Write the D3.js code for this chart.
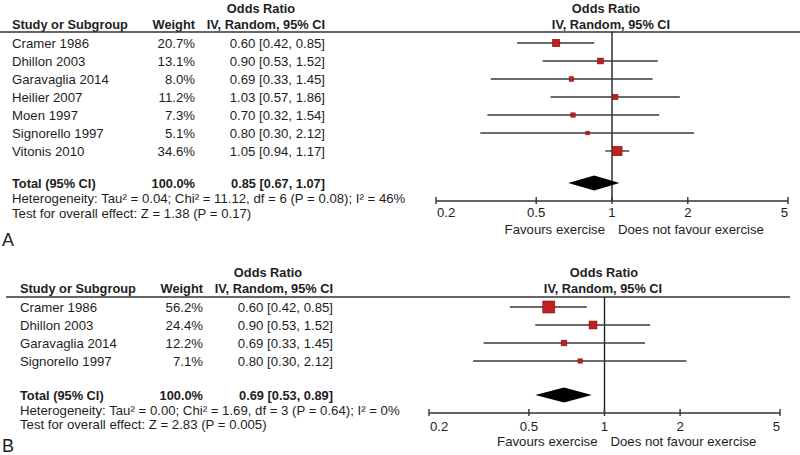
<!DOCTYPE html>
<html><head><meta charset="utf-8">
<script src="https://cdn.jsdelivr.net/npm/d3@7"></script>
<style>html,body{margin:0;padding:0;background:#fff;}svg{display:block;}</style>
</head><body>
<script>
// ---------- DATA ----------
const studiesA = ["Cramer 1986","Dhillon 2003","Garavaglia 2014","Heilier 2007","Moen 1997","Signorello 1997","Vitonis 2010"];
const weightsA = [20.7, 13.1, 8.0, 11.2, 7.3, 5.1, 34.6];
const orA      = [0.60, 0.90, 0.69, 1.03, 0.70, 0.80, 1.05];
const lowA     = [0.42, 0.53, 0.33, 0.57, 0.32, 0.30, 0.94];
const highA    = [0.85, 1.52, 1.45, 1.86, 1.54, 2.12, 1.17];
const totalA   = [0.85, 0.67, 1.07];
const hetA  = "Heterogeneity: Tau² = 0.04; Chi² = 11.12, df = 6 (P = 0.08); I² = 46%";
const testA = "Test for overall effect: Z = 1.38 (P = 0.17)";

const studiesB = ["Cramer 1986","Dhillon 2003","Garavaglia 2014","Signorello 1997"];
const weightsB = [56.2, 24.4, 12.2, 7.1];
const orB      = [0.60, 0.90, 0.69, 0.80];
const lowB     = [0.42, 0.53, 0.33, 0.30];
const highB    = [0.85, 1.52, 1.45, 2.12];
const totalB   = [0.69, 0.53, 0.89];
const hetB  = "Heterogeneity: Tau² = 0.00; Chi² = 1.69, df = 3 (P = 0.64); I² = 0%";
const testB = "Test for overall effect: Z = 2.83 (P = 0.005)";

const tickValues = [0.2, 0.5, 1, 2, 5];
const tickLabels = ["0.2", "0.5", "1", "2", "5"];
const favLeft = "Favours exercise";
const favRight = "Does not favour exercise";

// ---------- DRAW ----------
const W = 800, H = 455;
const svg = d3.select("body").append("svg").attr("width", W).attr("height", H);
const FONT = "'Liberation Sans', Arial, sans-serif";
const FS = 13.2, FSB = 12.8;
const TXT = "#1e1e1e";
const f2 = d3.format(".2f");
const f1 = d3.format(".1f");
const sizeScale = d3.scaleSqrt().domain([0, 100]).range([0, 16]);

function txt(g, x, y, s, anchor, bold, fs) {
  return g.append("text").attr("x", x).attr("y", y)
    .attr("text-anchor", anchor || "start")
    .attr("dominant-baseline", "central")
    .attr("font-family", FONT).attr("font-size", fs || (bold ? FSB : FS))
    .attr("font-weight", bold ? "bold" : "normal")
    .attr("fill", TXT).text(s);
}

function panel(cfg, d) {
  const g = svg.append("g");
  const x = d3.scaleLog().domain([0.2, 5]).range([cfg.ax0, cfg.ax1]);
  const rows = d.studies.map((s, i) => ({s, w: d.weights[i], or: d.or[i], lo: d.lo[i], hi: d.hi[i], y: cfg.row0 + i * cfg.rowStep}));

  // headers
  txt(g, cfg.orHdrX, cfg.hdr1, "Odds Ratio", "middle", true);
  txt(g, cfg.colStudy, cfg.hdr2, "Study or Subgroup", "start", true);
  txt(g, cfg.colW, cfg.hdr2, "Weight", "end", true);
  txt(g, cfg.colCI, cfg.hdr2, "IV, Random, 95% CI", "end", true);
  txt(g, cfg.plotHdr1X, cfg.hdr1, "Odds Ratio", "middle", true);
  txt(g, cfg.plotHdr2X, cfg.hdr2, "IV, Random, 95% CI", "middle", true);
  g.append("line").attr("x1", cfg.rule0).attr("x2", cfg.rule1)
    .attr("y1", cfg.rule).attr("y2", cfg.rule).attr("stroke", "#333").attr("stroke-width", 1.6);

  // rows text
  rows.forEach(r => {
    txt(g, cfg.colStudy, r.y, r.s, "start");
    txt(g, cfg.colW, r.y, f1(r.w) + "%", "end");
    txt(g, cfg.colCI, r.y, `${f2(r.or)} [${f2(r.lo)}, ${f2(r.hi)}]`, "end");
  });

  // total
  txt(g, cfg.colStudy, cfg.totalY, "Total (95% CI)", "start", true);
  txt(g, cfg.colW, cfg.totalY, "100.0%", "end", true);
  txt(g, cfg.colCI, cfg.totalY, `${f2(d.total[0])} [${f2(d.total[1])}, ${f2(d.total[2])}]`, "end", true);
  txt(g, cfg.colStudy, cfg.hetY, d.het, "start");
  txt(g, cfg.colStudy, cfg.testY, d.test, "start");

  // vertical line of no effect
  g.append("line").attr("x1", x(1)).attr("x2", x(1)).attr("y1", cfg.rule).attr("y2", cfg.axisY)
    .attr("stroke", "#222").attr("stroke-width", 1.4);

  // CI lines
  g.selectAll(".ci").data(rows).enter().append("line")
    .attr("x1", r => x(r.lo)).attr("x2", r => x(r.hi))
    .attr("y1", r => r.y).attr("y2", r => r.y)
    .attr("stroke", "#3a3a3a").attr("stroke-width", 1.4);
  // squares
  g.selectAll(".sq").data(rows).enter().append("rect")
    .attr("x", r => x(r.or) - sizeScale(r.w) / 2)
    .attr("y", r => r.y - sizeScale(r.w) / 2)
    .attr("width", r => sizeScale(r.w)).attr("height", r => sizeScale(r.w))
    .attr("fill", "#c41f1f").attr("stroke", "#7a1010").attr("stroke-width", 0.6);

  // diamond
  const t = d.total, dy = cfg.totalY, hh = 7.5;
  g.append("path")
    .attr("d", `M${x(t[1])},${dy}L${x(t[0])},${dy - hh}L${x(t[2])},${dy}L${x(t[0])},${dy + hh}Z`)
    .attr("fill", "#000");

  // axis
  const axG = g.append("g").attr("transform", `translate(0,${cfg.axisY})`);
  axG.append("line").attr("x1", cfg.ax0).attr("x2", cfg.ax1).attr("stroke", "#333").attr("stroke-width", 1.6);
  tickValues.forEach((v, i) => {
    axG.append("line").attr("x1", x(v)).attr("x2", x(v)).attr("y1", -4).attr("y2", 3)
      .attr("stroke", "#333").attr("stroke-width", 1.4);
    const anchor = i === 0 ? "start" : (i === tickValues.length - 1 ? "end" : "middle");
    txt(axG, x(v) + (i === 0 ? 1 : 0), cfg.tickLabY - cfg.axisY, tickLabels[i], anchor);
  });
  txt(g, x(1) - 7, cfg.favY, favLeft, "end");
  txt(g, x(1) + 6, cfg.favY, favRight, "start");

  txt(g, cfg.labX, cfg.labY, cfg.label, "start", false, 18);
}

panel({
  colStudy: 12, colW: 195, colCI: 325, orHdrX: 261,
  plotHdr1X: 606, plotHdr2X: 611,
  hdr1: 8, hdr2: 24, rule: 32, rule0: 0, rule1: 800,
  row0: 43, rowStep: 18, totalY: 183, hetY: 198, testY: 213,
  ax0: 436, ax1: 788, axisY: 201, tickLabY: 212, favY: 229,
  labX: 2, labY: 240, label: "A"
}, {studies: studiesA, weights: weightsA, or: orA, lo: lowA, hi: highA, total: totalA, het: hetA, test: testA});

panel({
  colStudy: 20, colW: 203, colCI: 333, orHdrX: 268,
  plotHdr1X: 604, plotHdr2X: 603,
  hdr1: 272, hdr2: 288, rule: 297, rule0: 6, rule1: 790,
  row0: 307, rowStep: 18, totalY: 395, hetY: 410, testY: 424,
  ax0: 429, ax1: 780, axisY: 413, tickLabY: 426, favY: 441,
  labX: 2, labY: 446, label: "B"
}, {studies: studiesB, weights: weightsB, or: orB, lo: lowB, hi: highB, total: totalB, het: hetB, test: testB});
</script>
</body></html>
